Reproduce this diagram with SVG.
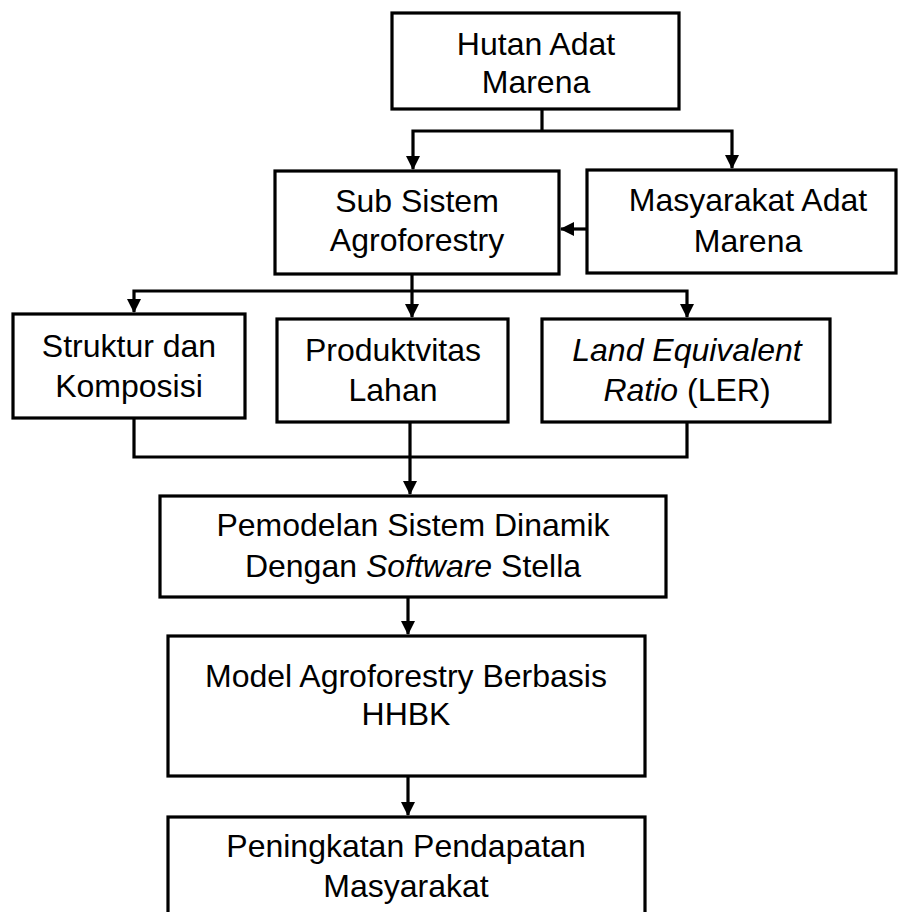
<svg xmlns="http://www.w3.org/2000/svg" width="899" height="912" viewBox="0 0 899 912">
<defs>
<style>
.box{fill:#fff;stroke:#000;stroke-width:3.2}
.con{fill:none;stroke:#000;stroke-width:3.2;stroke-linejoin:miter}
.arr{marker-end:url(#ah)}
.arr2{marker-start:url(#ah);marker-end:url(#ah)}
text{font-family:"Liberation Sans",Arial,sans-serif;font-size:32px;fill:#000;text-anchor:middle}
.i{font-style:italic}
</style>
<marker id="ah" viewBox="0 0 14 14" refX="13" refY="7" markerWidth="14" markerHeight="14" markerUnits="userSpaceOnUse" orient="auto-start-reverse">
<path d="M0,0 L14,7 L0,14 z" fill="#000"/>
</marker>
</defs>
<rect width="899" height="912" fill="#fff"/>
<g id="connectors">
<path class="con" d="M542,110 V131"/>
<path class="con arr2" d="M413,169 V131 H732 V168"/>
<path class="con arr" d="M587,229 H561"/>
<path class="con" d="M412,274 V291"/>
<path class="con arr2" d="M134,312 V291 H687 V317"/>
<path class="con arr" d="M412,291 V317"/>
<path class="con" d="M134,418 V457 H687 V422"/>
<path class="con arr" d="M410,422 V494"/>
<path class="con arr" d="M408,597 V634"/>
<path class="con arr" d="M408,776 V815"/>
</g>
<g id="hutan">
<rect class="box" x="392" y="13" width="287" height="96"/>
<text x="536" y="55">Hutan Adat</text>
<text x="536" y="93">Marena</text>
</g>
<g id="subsistem">
<rect class="box" x="275" y="171" width="284" height="103"/>
<text x="417" y="212">Sub Sistem</text>
<text x="417" y="251">Agroforestry</text>
</g>
<g id="masyarakat">
<rect class="box" x="587" y="170" width="309" height="103"/>
<text x="748" y="211">Masyarakat Adat</text>
<text x="748" y="252">Marena</text>
</g>
<g id="struktur">
<rect class="box" x="13" y="314" width="232" height="104"/>
<text x="129" y="357">Struktur dan</text>
<text x="129" y="397">Komposisi</text>
</g>
<g id="produktivitas">
<rect class="box" x="277" y="319" width="231" height="103"/>
<text x="393" y="361">Produktvitas</text>
<text x="393" y="401">Lahan</text>
</g>
<g id="ler">
<rect class="box" x="542" y="319" width="288" height="103"/>
<text x="687" y="361" class="i">Land Equivalent</text>
<text x="687" y="401"><tspan class="i">Ratio</tspan> (LER)</text>
</g>
<g id="pemodelan">
<rect class="box" x="160" y="496" width="506" height="101"/>
<text x="413" y="536">Pemodelan Sistem Dinamik</text>
<text x="413" y="577">Dengan <tspan class="i">Software</tspan> Stella</text>
</g>
<g id="model">
<rect class="box" x="168" y="636" width="477" height="140"/>
<text x="406" y="687">Model Agroforestry Berbasis</text>
<text x="406" y="725">HHBK</text>
</g>
<g id="peningkatan">
<rect class="box" x="168" y="817" width="477" height="100"/>
<text x="406" y="857">Peningkatan Pendapatan</text>
<text x="406" y="897">Masyarakat</text>
</g>
</svg>
